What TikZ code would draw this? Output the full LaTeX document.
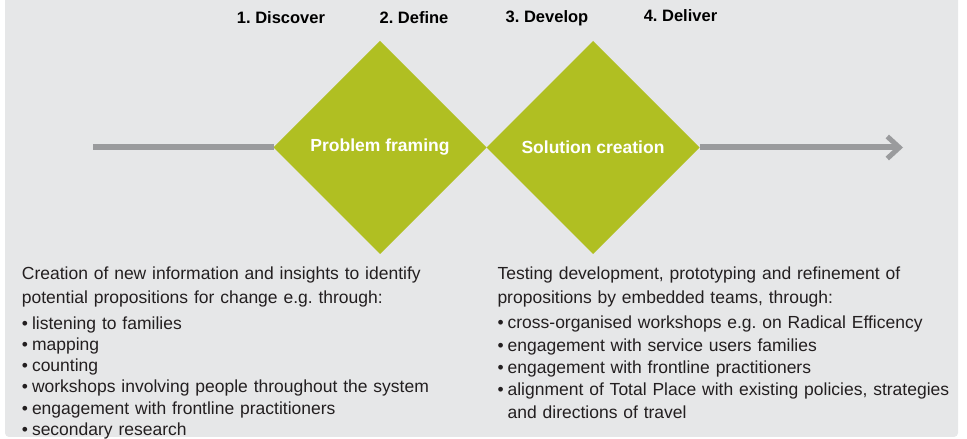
\documentclass[tikz,border=0pt]{standalone}
\usepackage{fontspec}
\setmainfont{Liberation Sans}
\usetikzlibrary{arrows.meta, shapes.geometric, positioning}
\frenchspacing
\definecolor{panelGrey}{HTML}{E6E7E8}
\definecolor{phaseGreen}{HTML}{B0BF22}
\definecolor{flowGrey}{HTML}{9A9B9D}
\definecolor{bodyText}{HTML}{231F20}
\tikzstyle{phase} = [diamond, fill = phaseGreen, text = white, font = \fontsize{17.5}{20}\selectfont\bfseries, minimum width = 213pt, minimum height = 213pt, inner sep = 0pt, outer sep = 0pt]
\tikzstyle{stage} = [anchor = base, inner sep = 0pt, text = black, font = \fontsize{16.5}{20}\selectfont\bfseries]
\tikzstyle{blurb} = [anchor = base west, inner sep = 0pt, align = left, text = bodyText]
\tikzstyle{flow} = [draw = flowGrey, line width = 6pt]
\newcommand{\bul}{\textbullet\hspace{4pt}}

\begin{document}
\begin{tikzpicture}[x = 1pt, y = 1pt]
\useasboundingbox (0,0) rectangle (967,439);
\fill [panelGrey, rounded corners = 4pt] (5,2) rectangle (958,450);

\coordinate (flowStart) at (93,291.5);
\coordinate (flowEnd) at (903,291.5);
\node (problemFrame) [phase] at (380,291.5) {Problem framing};
\node (solutionCreate) [phase, right = 0pt of problemFrame] {Solution creation};

\draw [flow] (flowStart) -- (problemFrame.west);
\draw [flow, -{Straight Barb[length = 12pt, width = 22pt, line width = 5pt]}] (solutionCreate.east) -- (flowEnd);

\node (discoverLbl) [stage] at (281,415.7) {1. Discover};
\node (defineLbl) [stage] at (414,415.7) {2. Define};
\node (developLbl) [stage] at (547,416) {3. Develop};
\node (deliverLbl) [stage] at (680.5,417.7) {4. Deliver};

\node (discoverText) [blurb, text width = 450pt, font = \fontsize{17.5}{21.2}\selectfont] at (21.7,159) {Creation of new information and insights to identify\\[2.1pt]
potential propositions for change e.g. through:\\[4.8pt]
\bul listening to families\\
\bul mapping\\
\bul counting\\
\bul workshops involving people throughout the system\\
\bul engagement with frontline practitioners\\
\bul secondary research};

\node (developText) [blurb, text width = 470pt, font = \fontsize{17.5}{22.3}\selectfont] at (497.3,159) {Testing development, prototyping and refinement of\\[1pt]
propositions by embedded teams, through:\\[3.4pt]
\bul cross-organised workshops e.g. on Radical Efficency\\
\bul engagement with service users families\\
\bul engagement with frontline practitioners\\
\bul alignment of Total Place with existing policies, strategies\\
\hphantom{\bul}and directions of travel};
\end{tikzpicture}
\end{document}
